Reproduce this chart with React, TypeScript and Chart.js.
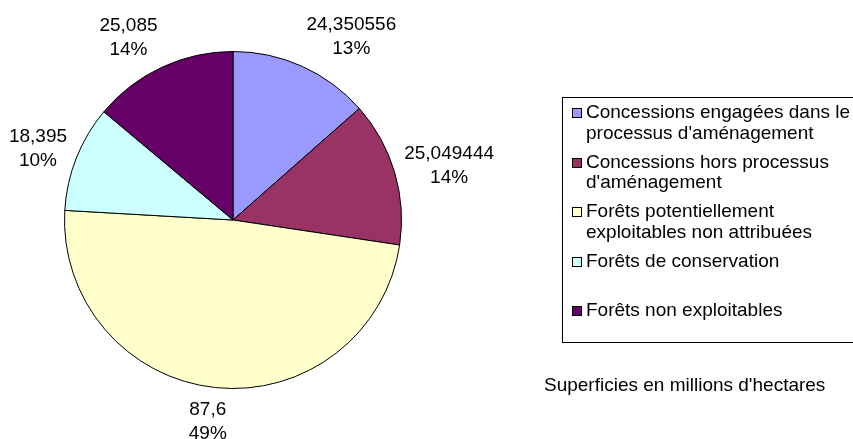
import { useEffect, useRef } from 'react';
import { Chart, registerables } from 'chart.js';

Chart.register(...registerables);

const categories = [
  "Concessions engagées dans le processus d'aménagement",
  "Concessions hors processus d'aménagement",
  "Forêts potentiellement exploitables non attribuées",
  "Forêts de conservation",
  "Forêts non exploitables",
];
const values = [24.350556, 25.049444, 87.6, 18.395, 25.085];
const colors = ['#9999FF', '#993366', '#FFFFCC', '#CCFFFF', '#660066'];
const footnote = "Superficies en millions d'hectares";

const FONT = '19px "Liberation Sans", Arial, sans-serif';

function wrapText(ctx: CanvasRenderingContext2D, text: string, maxW: number): string[] {
  const words = text.split(' ');
  const lines: string[] = [];
  let cur = '';
  for (const w of words) {
    const test = cur ? cur + ' ' + w : w;
    if (cur && ctx.measureText(test).width > maxW) {
      lines.push(cur);
      cur = w;
    } else {
      cur = test;
    }
  }
  if (cur) lines.push(cur);
  return lines;
}

const labelPlugin = {
  id: 'outsideLabels',
  afterDatasetsDraw(chart: any) {
    const ctx: CanvasRenderingContext2D = chart.ctx;
    const meta = chart.getDatasetMeta(0);
    const data: number[] = chart.data.datasets[0].data;
    const total = data.reduce((a, b) => a + b, 0);
    ctx.save();
    ctx.font = FONT;
    ctx.fillStyle = '#000';
    ctx.textAlign = 'center';
    ctx.textBaseline = 'middle';
    meta.data.forEach((arc: any, i: number) => {
      const { x, y, startAngle, endAngle, outerRadius } = arc.getProps(
        ['x', 'y', 'startAngle', 'endAngle', 'outerRadius'],
        true
      );
      const mid = (startAngle + endAngle) / 2;
      const s = Math.cos(mid);
      const c = -Math.sin(mid);
      const lines = [String(data[i]).replace('.', ','), Math.round((data[i] / total) * 100) + '%'];
      const w = Math.max(...lines.map((l) => ctx.measureText(l).width));
      const lh = 24;
      const h = lh * lines.length;
      const D = outerRadius + 10;
      const sx = Math.max(-1, Math.min(1, 3.5 * s));
      const sy = Math.sign(c) * Math.pow(Math.abs(c), 1.5);
      const bx = x + D * s + (sx * w) / 2;
      const by = y - D * c - (sy * h) / 2;
      lines.forEach((l, j) => ctx.fillText(l, bx, by + (j - (lines.length - 1) / 2) * lh));
    });
    ctx.restore();
  },
  afterDraw(chart: any) {
    const ctx: CanvasRenderingContext2D = chart.ctx;
    ctx.save();
    ctx.font = FONT;
    ctx.strokeStyle = '#000';
    ctx.lineWidth = 1;
    // legend box
    ctx.strokeRect(562.5, 97.5, 330, 245);
    const textX = 586;
    const maxW = chart.width - textX;
    const entryH = 49.5;
    ctx.textAlign = 'left';
    ctx.textBaseline = 'middle';
    categories.forEach((cat, i) => {
      const y0 = 113 + i * entryH;
      ctx.fillStyle = colors[i];
      ctx.fillRect(572.5, Math.round(y0) - 4.5, 9, 9);
      ctx.strokeRect(572.5, Math.round(y0) - 4.5, 9, 9);
      ctx.fillStyle = '#000';
      const lines = wrapText(ctx, cat, maxW);
      lines.forEach((l, j) => ctx.fillText(l, textX, y0 + j * 20.5));
    });
    ctx.fillText(footnote, 544, 386);
    ctx.restore();
  },
};

export default function App() {
  const ref = useRef<HTMLCanvasElement | null>(null);
  useEffect(() => {
    document.body.style.margin = '0';
    if (!ref.current) return;
    const chart = new Chart(ref.current, {
      type: 'pie',
      data: {
        labels: categories,
        datasets: [
          {
            data: values,
            backgroundColor: colors,
            borderColor: '#000',
            borderWidth: 1,
          },
        ],
      },
      options: {
        animation: false,
        responsive: false,
        devicePixelRatio: 1,
        layout: { padding: { left: 64, right: 451, top: 51, bottom: 50 } },
        plugins: {
          legend: { display: false },
          tooltip: { enabled: false },
        },
      },
      plugins: [labelPlugin],
    });
    return () => chart.destroy();
  }, []);
  return (
    <div style={{ position: 'absolute', left: 0, top: 0, width: 853, height: 439, background: '#fff' }}>
      <canvas ref={ref} width={853} height={439} style={{ display: 'block' }} />
    </div>
  );
}
